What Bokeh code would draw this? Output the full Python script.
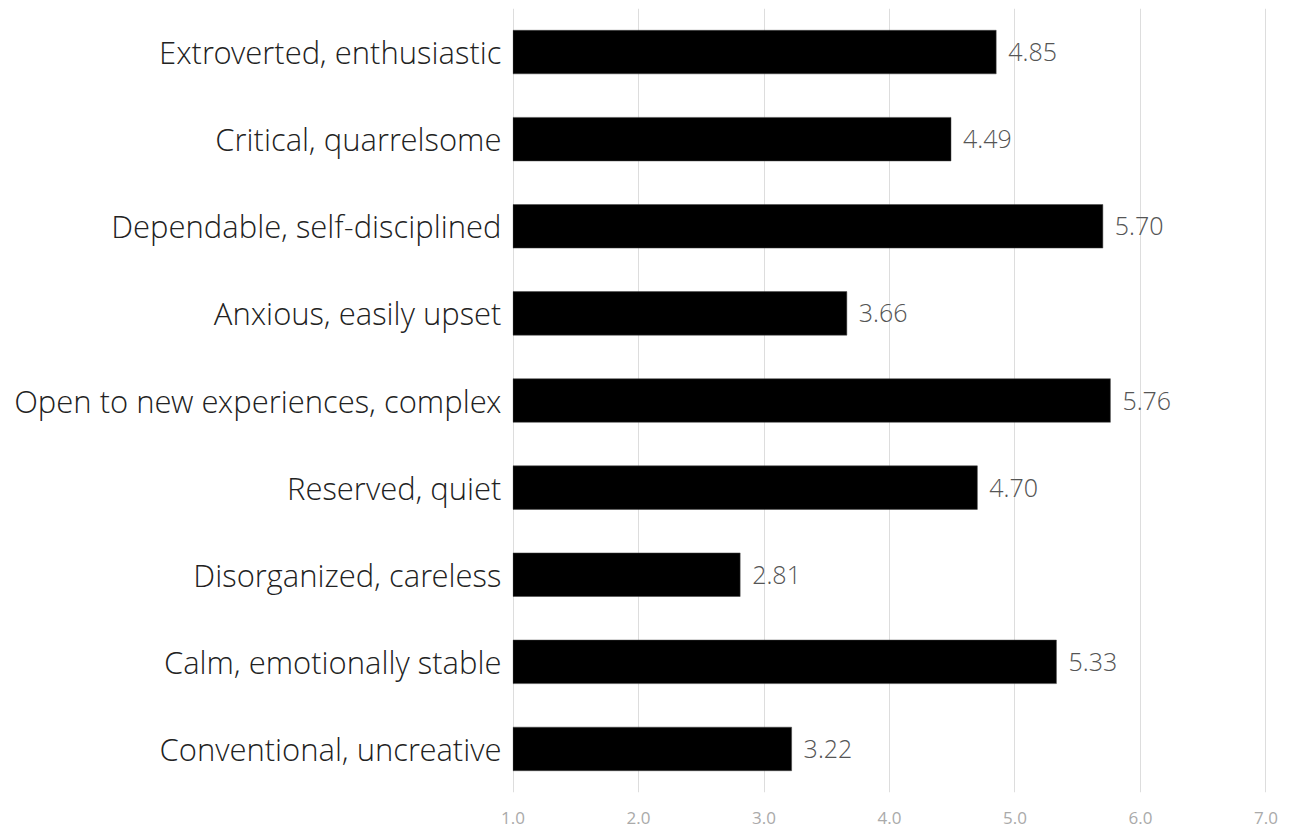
from bokeh.plotting import figure
from bokeh.models import ColumnDataSource, FactorRange, Range1d, FixedTicker
from bokeh.core.properties import value
from bokeh.embed import file_html
from bokeh.resources import INLINE

traits = [
    "Extroverted, enthusiastic",
    "Critical, quarrelsome",
    "Dependable, self-disciplined",
    "Anxious, easily upset",
    "Open to new experiences, complex",
    "Reserved, quiet",
    "Disorganized, careless",
    "Calm, emotionally stable",
    "Conventional, uncreative",
]
scores = [4.85, 4.49, 5.70, 3.66, 5.76, 4.70, 2.81, 5.33, 3.22]
x_ticks = [1, 2, 3, 4, 5, 6, 7]

FONT = "Open Sans Light, Open Sans"
TICK_FONT = "Liberation Sans Narrow, Open Sans"

src = ColumnDataSource(dict(
    trait=traits,
    score=scores,
    base=[1.0] * len(scores),
    label=["%.2f" % s for s in scores],
))

p = figure(
    width=1289, height=829,
    y_range=FactorRange(*reversed(traits), range_padding=0),
    x_range=Range1d(0.996, 7.004),
    output_backend="svg", toolbar_location=None,
    min_border_left=512, min_border_right=23,
    min_border_top=8, min_border_bottom=37,
)
p.outline_line_color = None
p.background_fill_color = "white"
p.border_fill_color = "white"

p.hbar(y="trait", left="base", right="score", height=0.5, source=src,
       fill_color="black", line_color="#444444", line_width=0.5)

p.text(x="score", y="trait", text="label", source=src,
       x_offset=12, text_align="left", text_baseline="middle",
       text_font=value(FONT), text_font_size="25px", text_color="#555555")

p.xgrid.ticker = FixedTicker(ticks=x_ticks)
p.xgrid.grid_line_color = "#dddddd"
p.xgrid.grid_line_width = 1
p.ygrid.grid_line_color = None

p.xaxis.ticker = FixedTicker(ticks=x_ticks)
p.xaxis.major_label_overrides = {t: "%.1f" % t for t in x_ticks}
p.xaxis.axis_line_color = None
p.xaxis.major_tick_line_color = None
p.xaxis.minor_tick_line_color = None
p.xaxis.major_label_text_font = TICK_FONT
p.xaxis.major_label_text_font_size = "17px"
p.xaxis.major_label_text_color = "#aaaaaa"
p.xaxis.major_label_standoff = 13

p.yaxis.axis_line_color = None
p.yaxis.major_tick_line_color = None
p.yaxis.minor_tick_line_color = None
p.yaxis.major_label_text_font = FONT
p.yaxis.major_label_text_font_size = "31px"
p.yaxis.major_label_text_color = "#222222"
p.yaxis.major_label_standoff = 5

open("out.html", "w").write(file_html(p, INLINE))
